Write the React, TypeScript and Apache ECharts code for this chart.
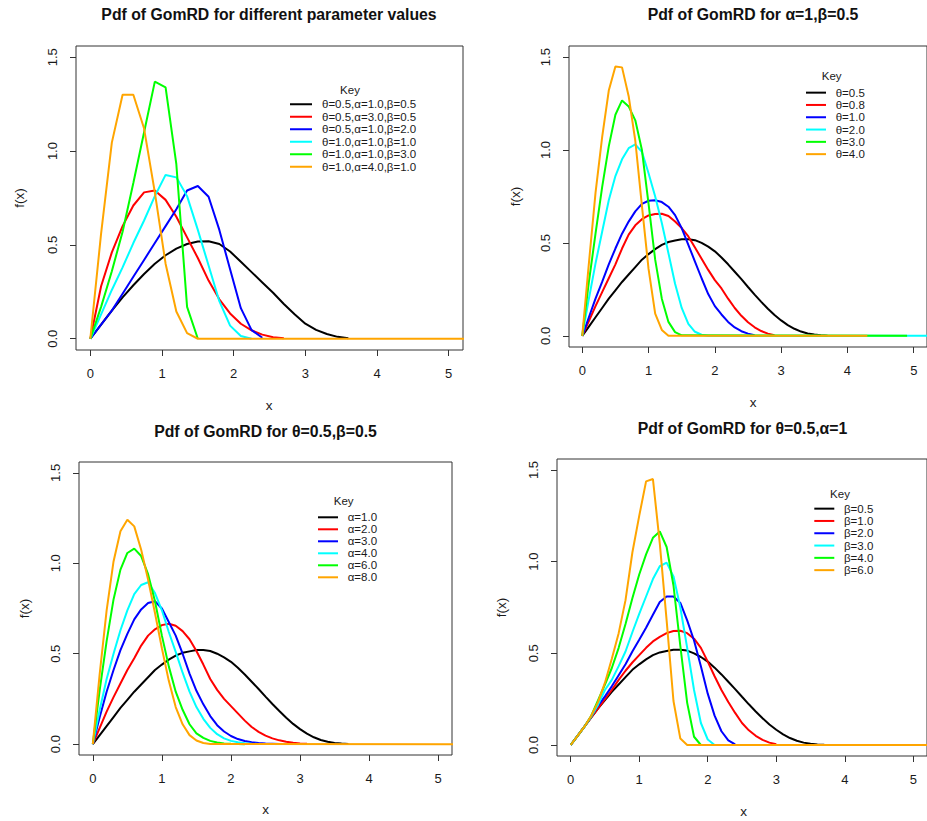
import React, { useEffect, useRef } from "react";
import * as echarts from "echarts";

// ---------- data ----------
const X_COARSE = [0, 0.15, 0.3, 0.45, 0.6, 0.75, 0.9, 1.05, 1.2, 1.35, 1.5, 1.65, 1.8, 1.95, 2.1, 2.25, 2.4, 2.55, 2.7, 2.85, 3.0, 3.15, 3.3, 3.45, 3.6];
const X_FINE = [0, 0.1, 0.2, 0.3, 0.4, 0.5, 0.6, 0.7, 0.8, 0.9, 1.0, 1.1, 1.2, 1.3, 1.4, 1.5, 1.6, 1.7, 1.8, 1.9, 2.0, 2.1, 2.2, 2.3, 2.4, 2.5, 2.6, 2.7, 2.8, 2.9, 3.0, 3.1, 3.2, 3.3, 3.4, 3.5, 3.6, 3.7];

const X_TICKS = [0, 1, 2, 3, 4, 5];
const Y_TICKS = [0, 0.5, 1.0, 1.5];

const COLORS = ["#000000", "#FF0000", "#0000FF", "#00FFFF", "#00FF00", "#FFA500"];

// Panel 1: different parameter values
const P1_NAMES = ["θ=0.5,α=1.0,β=0.5", "θ=0.5,α=3.0,β=0.5", "θ=0.5,α=1.0,β=2.0", "θ=1.0,α=1.0,β=1.0", "θ=1.0,α=1.0,β=3.0", "θ=1.0,α=4.0,β=1.0"];
const P1_BLACK = [0, 0.075, 0.15, 0.22, 0.285, 0.345, 0.40, 0.445, 0.48, 0.505, 0.518, 0.52, 0.505, 0.465, 0.41, 0.355, 0.30, 0.245, 0.185, 0.13, 0.08, 0.047, 0.025, 0.01, 0.003];
const P1_RED = [0, 0.28, 0.46, 0.60, 0.71, 0.78, 0.79, 0.74, 0.65, 0.54, 0.43, 0.31, 0.21, 0.135, 0.08, 0.045, 0.022, 0.008, 0.002];
const P1_BLUE = [0, 0.075, 0.15, 0.24, 0.33, 0.42, 0.51, 0.60, 0.69, 0.79, 0.814, 0.757, 0.58, 0.37, 0.163, 0.046, 0.005];
const P1_CYAN = [0, 0.13, 0.26, 0.38, 0.51, 0.63, 0.76, 0.873, 0.86, 0.76, 0.58, 0.39, 0.20, 0.07, 0.015, 0];
const P1_GREEN = [0, 0.17, 0.36, 0.57, 0.83, 1.10, 1.37, 1.34, 0.93, 0.17, 0];
const P1_ORANGE = [0, 0.56, 1.045, 1.30, 1.30, 1.12, 0.78, 0.40, 0.145, 0.03, 0];
const P1_TAIL_END = [null, null, null, null, null, 5.3];

// Shared black curve (θ=0.5, α=1, β=0.5) in panels 2-4
const BLACK_T05_A1_B05 = [0, 0.05, 0.10, 0.15, 0.20, 0.245, 0.29, 0.33, 0.37, 0.41, 0.44, 0.467, 0.49, 0.505, 0.513, 0.52, 0.52, 0.515, 0.50, 0.48, 0.455, 0.422, 0.385, 0.345, 0.305, 0.263, 0.222, 0.183, 0.146, 0.112, 0.083, 0.058, 0.038, 0.023, 0.013, 0.007, 0.003, 0.001];

// Panel 2: α=1, β=0.5, θ varies
const P2_NAMES = ["θ=0.5", "θ=0.8", "θ=1.0", "θ=2.0", "θ=3.0", "θ=4.0"];
const P2_RED = [0, 0.08, 0.16, 0.235, 0.31, 0.385, 0.47, 0.545, 0.595, 0.628, 0.648, 0.656, 0.657, 0.645, 0.615, 0.58, 0.535, 0.475, 0.415, 0.355, 0.30, 0.255, 0.20, 0.15, 0.108, 0.073, 0.046, 0.026, 0.012, 0.004];
const P2_BLUE = [0, 0.10, 0.20, 0.29, 0.385, 0.47, 0.55, 0.615, 0.67, 0.71, 0.727, 0.73, 0.72, 0.695, 0.65, 0.58, 0.49, 0.40, 0.31, 0.225, 0.16, 0.115, 0.075, 0.045, 0.025, 0.012, 0.004];
const P2_CYAN = [0, 0.20, 0.39, 0.56, 0.73, 0.86, 0.95, 1.01, 1.03, 0.99, 0.875, 0.75, 0.607, 0.445, 0.28, 0.15, 0.065, 0.022, 0.006, 0.001];
const P2_GREEN = [0, 0.29, 0.55, 0.80, 1.02, 1.19, 1.267, 1.235, 1.16, 1.0, 0.71, 0.41, 0.20, 0.075, 0.02, 0.003];
const P2_ORANGE = [0, 0.39, 0.77, 1.07, 1.32, 1.45, 1.445, 1.29, 1.05, 0.70, 0.36, 0.12, 0.032, 0];
const P2_TAIL_END = [null, null, null, 5.3, 4.9, 4.3];

// Panel 3: θ=0.5, β=0.5, α varies
const P3_NAMES = ["α=1.0", "α=2.0", "α=3.0", "α=4.0", "α=6.0", "α=8.0"];
const P3_RED = [0, 0.09, 0.18, 0.26, 0.335, 0.41, 0.475, 0.545, 0.60, 0.635, 0.658, 0.666, 0.655, 0.625, 0.58, 0.515, 0.44, 0.36, 0.30, 0.25, 0.21, 0.17, 0.13, 0.095, 0.068, 0.047, 0.032, 0.021, 0.013, 0.008, 0.004, 0.002];
const P3_BLUE = [0, 0.15, 0.29, 0.41, 0.52, 0.61, 0.69, 0.745, 0.78, 0.79, 0.75, 0.675, 0.60, 0.50, 0.39, 0.295, 0.22, 0.155, 0.105, 0.07, 0.045, 0.028, 0.017, 0.01, 0.006, 0.003, 0.002, 0.001];
const P3_CYAN = [0, 0.19, 0.36, 0.50, 0.63, 0.74, 0.83, 0.88, 0.895, 0.835, 0.74, 0.62, 0.51, 0.395, 0.29, 0.205, 0.14, 0.09, 0.055, 0.032, 0.018, 0.01, 0.005, 0.002, 0.001];
const P3_GREEN = [0, 0.30, 0.57, 0.80, 0.965, 1.057, 1.081, 1.04, 0.94, 0.79, 0.60, 0.43, 0.29, 0.19, 0.11, 0.06, 0.035, 0.018, 0.009, 0.004, 0.002, 0.001, 0];
const P3_ORANGE = [0, 0.39, 0.74, 1.01, 1.177, 1.241, 1.204, 1.075, 0.91, 0.725, 0.53, 0.35, 0.205, 0.11, 0.05, 0.02, 0.006, 0.001];
const P3_TAIL_END = [null, null, null, null, null, 5.3];

// Panel 4: θ=0.5, α=1, β varies
const P4_NAMES = ["β=0.5", "β=1.0", "β=2.0", "β=3.0", "β=4.0", "β=6.0"];
const P4_RED = [0, 0.05, 0.10, 0.15, 0.20, 0.25, 0.30, 0.355, 0.405, 0.45, 0.49, 0.53, 0.565, 0.59, 0.61, 0.622, 0.623, 0.61, 0.58, 0.53, 0.455, 0.375, 0.30, 0.235, 0.175, 0.12, 0.08, 0.05, 0.028, 0.013, 0.004];
const P4_BLUE = [0, 0.05, 0.10, 0.155, 0.215, 0.265, 0.32, 0.38, 0.44, 0.51, 0.574, 0.64, 0.71, 0.78, 0.81, 0.81, 0.775, 0.68, 0.57, 0.43, 0.28, 0.16, 0.075, 0.025, 0.003];
const P4_CYAN = [0, 0.05, 0.10, 0.155, 0.22, 0.30, 0.355, 0.43, 0.51, 0.615, 0.715, 0.81, 0.905, 0.975, 0.995, 0.92, 0.75, 0.53, 0.30, 0.12, 0.03, 0];
const P4_GREEN = [0, 0.05, 0.10, 0.16, 0.245, 0.33, 0.42, 0.53, 0.66, 0.80, 0.93, 1.04, 1.13, 1.165, 1.08, 0.87, 0.54, 0.23, 0.045, 0];
const P4_ORANGE = [0, 0.05, 0.10, 0.16, 0.235, 0.34, 0.47, 0.61, 0.79, 1.05, 1.25, 1.438, 1.451, 1.10, 0.68, 0.24, 0.035, 0];
const P4_TAIL_END = [null, null, null, null, null, 5.3];

const TITLES = [
  "Pdf of GomRD for different parameter values",
  "Pdf of GomRD for α=1,β=0.5",
  "Pdf of GomRD for θ=0.5,β=0.5",
  "Pdf of GomRD for θ=0.5,α=1",
];

// ---------- layout ----------
const FONT = "'Liberation Sans', Arial, Helvetica, sans-serif";
const TEXT_COLOR = "#1a1a1a";
const AXIS_COLOR = "#333333";

const GRIDS = [
  { left: 76, top: 46, width: 387, height: 304 },
  { left: 569, top: 46, width: 369, height: 301 },
  { left: 79, top: 462, width: 373, height: 293 },
  { left: 557, top: 459, width: 373, height: 297 },
];

const TITLE_POS = [[269, 14], [753, 14.5], [265.5, 431], [742.5, 428.5]];
const XNAME_POS = [[269, 405], [753, 402], [265.5, 809], [743.5, 811]];
const YNAME_POS = [[19, 198], [515, 196.5], [24, 608.5], [501, 607.5]];
const KEY_POS = [[350, 90], [831.7, 76.3], [343.7, 501], [840, 494]];
const LEGEND_BOX = [
  { left: 290, top: 98, itemWidth: 22, lh: 12.5, gap: 5 },
  { left: 806, top: 86.5, itemWidth: 20, lh: 12.3, gap: 4.7 },
  { left: 318, top: 511.3, itemWidth: 20, lh: 12, gap: 4.7 },
  { left: 814.3, top: 502.5, itemWidth: 20, lh: 12.3, gap: 4.7 },
];

function toPairs(xs: number[], ys: number[], tailEnd: number | null) {
  const pts: number[][] = ys.map((y, i) => [xs[i], y]);
  if (tailEnd !== null) pts.push([tailEnd, 0]);
  return pts;
}

function buildOption() {
  const panels = [
    { xs: X_COARSE, ys: [P1_BLACK, P1_RED, P1_BLUE, P1_CYAN, P1_GREEN, P1_ORANGE], tails: P1_TAIL_END, names: P1_NAMES },
    { xs: X_FINE, ys: [BLACK_T05_A1_B05, P2_RED, P2_BLUE, P2_CYAN, P2_GREEN, P2_ORANGE], tails: P2_TAIL_END, names: P2_NAMES },
    { xs: X_FINE, ys: [BLACK_T05_A1_B05, P3_RED, P3_BLUE, P3_CYAN, P3_GREEN, P3_ORANGE], tails: P3_TAIL_END, names: P3_NAMES },
    { xs: X_FINE, ys: [BLACK_T05_A1_B05, P4_RED, P4_BLUE, P4_CYAN, P4_GREEN, P4_ORANGE], tails: P4_TAIL_END, names: P4_NAMES },
  ];

  const grid = GRIDS.map((g) => ({
    ...g,
    show: true,
    borderColor: AXIS_COLOR,
    borderWidth: 1,
    backgroundColor: "transparent",
    containLabel: false,
  }));

  const xAxis = GRIDS.map((_, i) => ({
    type: "value",
    gridIndex: i,
    min: -0.2,
    max: 5.2,
    axisLine: { show: false, onZero: false },
    axisTick: { show: true, length: 6, inside: false, customValues: X_TICKS, lineStyle: { color: AXIS_COLOR, width: 1 } },
    axisLabel: { customValues: X_TICKS, fontSize: 13, fontFamily: FONT, color: TEXT_COLOR, margin: 17, formatter: (v: number) => String(v) },
    splitLine: { show: false },
  }));

  const yAxis = GRIDS.map((_, i) => ({
    type: "value",
    gridIndex: i,
    min: -0.06,
    max: 1.56,
    axisLine: { show: false, onZero: false },
    axisTick: { show: true, length: 6, inside: false, customValues: Y_TICKS, lineStyle: { color: AXIS_COLOR, width: 1 } },
    axisLabel: { customValues: Y_TICKS, rotate: 90, fontSize: 13, fontFamily: FONT, color: TEXT_COLOR, margin: 17, formatter: (v: number) => v.toFixed(1) },
    splitLine: { show: false },
  }));

  const series: any[] = [];
  panels.forEach((p, pi) => {
    p.ys.forEach((ys, si) => {
      series.push({
        type: "line",
        name: p.names[si],
        xAxisIndex: pi,
        yAxisIndex: pi,
        data: toPairs(p.xs, ys, p.tails[si]),
        showSymbol: false,
        symbol: "none",
        clip: true,
        silent: true,
        color: COLORS[si],
        lineStyle: { color: COLORS[si], width: 2 },
      });
    });
  });

  const legend = panels.map((p, pi) => {
    const b = LEGEND_BOX[pi];
    return {
      orient: "vertical",
      left: b.left,
      top: b.top,
      padding: 0,
      itemGap: 0,
      itemWidth: b.itemWidth,
      itemHeight: 2,
      icon: "rect",
      selectedMode: false,
      data: p.names,
      textStyle: { fontSize: 11.5, fontFamily: FONT, color: TEXT_COLOR, lineHeight: b.lh, padding: [0, 0, 0, b.gap] },
    };
  });

  const graphic: any[] = [];
  TITLES.forEach((t, i) => {
    graphic.push({
      type: "text",
      x: TITLE_POS[i][0],
      y: TITLE_POS[i][1],
      style: { text: t, fontSize: 15.8, fontWeight: "bold", fontFamily: FONT, fill: "#111", align: "center", verticalAlign: "middle" },
    });
    graphic.push({
      type: "text",
      x: XNAME_POS[i][0],
      y: XNAME_POS[i][1],
      style: { text: "x", fontSize: 13.5, fontFamily: FONT, fill: TEXT_COLOR, align: "center", verticalAlign: "middle" },
    });
    graphic.push({
      type: "text",
      x: YNAME_POS[i][0],
      y: YNAME_POS[i][1],
      rotation: Math.PI / 2,
      style: { text: "f(x)", fontSize: 13.5, fontFamily: FONT, fill: TEXT_COLOR, align: "center", verticalAlign: "middle" },
    });
    graphic.push({
      type: "text",
      x: KEY_POS[i][0],
      y: KEY_POS[i][1],
      style: { text: "Key", fontSize: 11.5, fontFamily: FONT, fill: TEXT_COLOR, align: "center", verticalAlign: "middle" },
    });
  });

  return {
    animation: false,
    backgroundColor: "#ffffff",
    grid,
    xAxis,
    yAxis,
    series,
    legend,
    graphic,
  };
}

export default function App() {
  const ref = useRef<HTMLDivElement>(null);
  useEffect(() => {
    if (!ref.current) return;
    const chart = echarts.init(ref.current, undefined, { renderer: "svg" });
    chart.setOption(buildOption() as any);
    return () => chart.dispose();
  }, []);
  return (
    <div
      ref={ref}
      style={{ position: "fixed", left: 0, top: 0, width: 927, height: 821, background: "#fff" }}
    />
  );
}
